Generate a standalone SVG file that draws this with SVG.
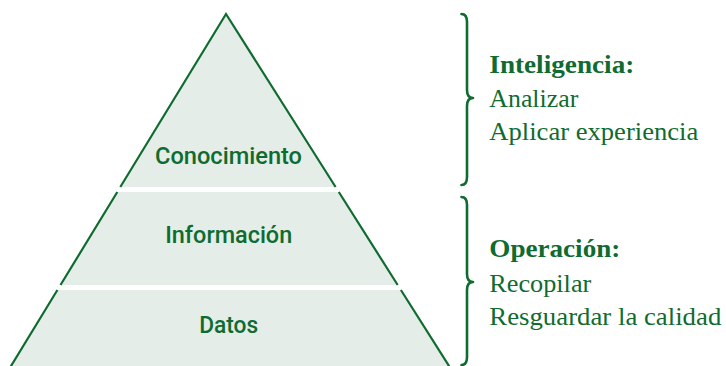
<svg xmlns="http://www.w3.org/2000/svg" width="726" height="366" viewBox="0 0 726 366">
<style>
.band{fill:#e4ede7;stroke:none}
.edge{stroke:#0f6b30;stroke-width:2.2;fill:none;stroke-linecap:butt}
.lbl{font-family:Roboto,"Noto Sans",sans-serif;font-size:24px;font-weight:500;fill:#0f6b30;text-anchor:middle}
.brace{stroke:#0f6b30;stroke-width:2.6;fill:none;stroke-linecap:round;stroke-linejoin:round}
.hd{font-family:"Liberation Serif","Times New Roman",serif;font-size:25.5px;font-weight:bold;fill:#0f6b30}
.tx{font-family:"Liberation Serif","Times New Roman",serif;font-size:25.5px;fill:#0f6b30}
</style>
<rect width="726" height="366" fill="#ffffff"/>
<g id="conocimiento">
<polygon class="band" points="226,14 335.6,187 120.3,187"/>
<path class="edge" d="M120.3,187 L226,14 L335.6,187"/>
<text class="lbl" x="228.5" y="163.5" textLength="147" lengthAdjust="spacingAndGlyphs">Conocimiento</text>
</g>
<g id="informacion">
<polygon class="band" points="117.3,192 338.8,192 397.7,285 60.5,285"/>
<path class="edge" d="M117.3,192 L60.5,285 M338.8,192 L397.7,285"/>
<text class="lbl" x="228.7" y="242.7" textLength="127" lengthAdjust="spacingAndGlyphs">Información</text>
</g>
<g id="datos">
<polygon class="band" points="57.4,290 400.9,290 450.3,368 9.8,368"/>
<path class="edge" d="M57.4,290 L9.8,368 M400.9,290 L450.3,368"/>
<text class="lbl" x="228.7" y="333.3" textLength="59" lengthAdjust="spacingAndGlyphs">Datos</text>
</g>
<g id="connectors">
<path class="brace" d="M461.5,14 C465.5,14 467,16.5 467,22 L467,90 C467,95 468.5,98 473,98 C468.5,98 467,101 467,106 L467,177 C467,182.5 465.5,185 461.5,185"/>
<path class="brace" d="M461.5,197 C465.5,197 467,199.5 467,205 L467,274 C467,279 468.5,282 473,282 C468.5,282 467,285 467,290 L467,357 C467,362.5 465.5,365 461.5,365"/>
</g>
<g id="inteligencia">
<text class="hd" x="489.3" y="72.7" textLength="145" lengthAdjust="spacingAndGlyphs">Inteligencia:</text>
<text class="tx" x="489.3" y="106.7" textLength="89" lengthAdjust="spacingAndGlyphs">Analizar</text>
<text class="tx" x="489.3" y="140" textLength="209" lengthAdjust="spacingAndGlyphs">Aplicar experiencia</text>
</g>
<g id="operacion">
<text class="hd" x="489.3" y="257.3" textLength="131" lengthAdjust="spacingAndGlyphs">Operación:</text>
<text class="tx" x="489.3" y="291.5" textLength="102" lengthAdjust="spacingAndGlyphs">Recopilar</text>
<text class="tx" x="489.3" y="324.5" textLength="232" lengthAdjust="spacingAndGlyphs">Resguardar la calidad</text>
</g>
</svg>
